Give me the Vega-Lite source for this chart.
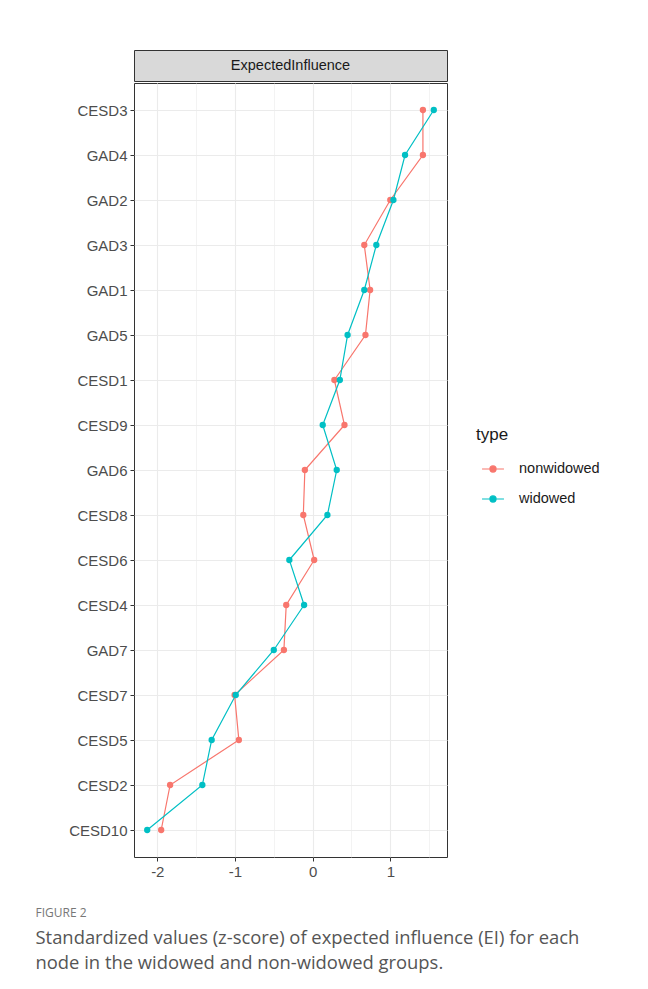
{
  "$schema": "https://vega.github.io/schema/vega-lite/v6.json",
  "padding": {"left": 35, "top": 49, "right": 5, "bottom": 5},
  "background": "white",
  "datasets": {
    "ei": [
      {"rank": 1, "node": "CESD3", "type": "nonwidowed", "z": 1.42},
      {"rank": 2, "node": "GAD4", "type": "nonwidowed", "z": 1.42},
      {"rank": 3, "node": "GAD2", "type": "nonwidowed", "z": 1.0},
      {"rank": 4, "node": "GAD3", "type": "nonwidowed", "z": 0.665},
      {"rank": 5, "node": "GAD1", "type": "nonwidowed", "z": 0.74},
      {"rank": 6, "node": "GAD5", "type": "nonwidowed", "z": 0.68},
      {"rank": 7, "node": "CESD1", "type": "nonwidowed", "z": 0.28},
      {"rank": 8, "node": "CESD9", "type": "nonwidowed", "z": 0.41},
      {"rank": 9, "node": "GAD6", "type": "nonwidowed", "z": -0.1},
      {"rank": 10, "node": "CESD8", "type": "nonwidowed", "z": -0.12},
      {"rank": 11, "node": "CESD6", "type": "nonwidowed", "z": 0.02},
      {"rank": 12, "node": "CESD4", "type": "nonwidowed", "z": -0.34},
      {"rank": 13, "node": "GAD7", "type": "nonwidowed", "z": -0.37},
      {"rank": 14, "node": "CESD7", "type": "nonwidowed", "z": -1.005},
      {"rank": 15, "node": "CESD5", "type": "nonwidowed", "z": -0.95},
      {"rank": 16, "node": "CESD2", "type": "nonwidowed", "z": -1.835},
      {"rank": 17, "node": "CESD10", "type": "nonwidowed", "z": -1.95},
      {"rank": 1, "node": "CESD3", "type": "widowed", "z": 1.56},
      {"rank": 2, "node": "GAD4", "type": "widowed", "z": 1.19},
      {"rank": 3, "node": "GAD2", "type": "widowed", "z": 1.04},
      {"rank": 4, "node": "GAD3", "type": "widowed", "z": 0.82},
      {"rank": 5, "node": "GAD1", "type": "widowed", "z": 0.665},
      {"rank": 6, "node": "GAD5", "type": "widowed", "z": 0.45},
      {"rank": 7, "node": "CESD1", "type": "widowed", "z": 0.35},
      {"rank": 8, "node": "CESD9", "type": "widowed", "z": 0.13},
      {"rank": 9, "node": "GAD6", "type": "widowed", "z": 0.31},
      {"rank": 10, "node": "CESD8", "type": "widowed", "z": 0.19},
      {"rank": 11, "node": "CESD6", "type": "widowed", "z": -0.3},
      {"rank": 12, "node": "CESD4", "type": "widowed", "z": -0.11},
      {"rank": 13, "node": "GAD7", "type": "widowed", "z": -0.5},
      {"rank": 14, "node": "CESD7", "type": "widowed", "z": -0.99},
      {"rank": 15, "node": "CESD5", "type": "widowed", "z": -1.3},
      {"rank": 16, "node": "CESD2", "type": "widowed", "z": -1.42},
      {"rank": 17, "node": "CESD10", "type": "widowed", "z": -2.13}
    ]
  },
  "title": {
    "text": "FIGURE 2",
    "subtitle": ["Standardized values (z-score) of expected influence (EI) for each", "node in the widowed and non-widowed groups."],
    "orient": "bottom",
    "anchor": "start",
    "offset": 28,
    "font": "Open Sans",
    "fontSize": 12,
    "fontWeight": "normal",
    "color": "#777777",
    "subtitleFont": "Open Sans",
    "subtitleFontSize": 18.4,
    "subtitleColor": "#555555",
    "subtitleLineHeight": 25,
    "subtitlePadding": 9
  },
  "spacing": 0,
  "vconcat": [
    {
      "width": 313,
      "height": 31,
      "view": {"fill": "#D9D9D9", "stroke": "#333333", "strokeWidth": 1},
      "data": {"values": [{"label": "ExpectedInfluence"}]},
      "mark": {"type": "text", "font": "Liberation Sans", "fontSize": 14.5, "color": "#1A1A1A"},
      "encoding": {"text": {"field": "label", "type": "nominal"}}
    },
    {
      "width": 313,
      "height": 774,
      "view": {"stroke": "#333333", "strokeWidth": 1},
      "data": {"name": "ei"},
      "encoding": {
        "y": {
          "field": "node",
          "type": "nominal",
          "sort": ["CESD3", "GAD4", "GAD2", "GAD3", "GAD1", "GAD5", "CESD1", "CESD9", "GAD6", "CESD8", "CESD6", "CESD4", "GAD7", "CESD7", "CESD5", "CESD2", "CESD10"],
          "scale": {"type": "point", "padding": 0.6},
          "axis": {
            "title": null,
            "domain": false,
            "grid": true,
            "gridColor": "#EBEBEB",
            "gridWidth": 1.1,
            "tickColor": "#333333",
            "tickSize": 4,
            "labelPadding": 3,
            "labelFont": "Liberation Sans",
            "labelFontSize": 15,
            "labelColor": "#4D4D4D",
            "minExtent": 98
          }
        },
        "x": {
          "field": "z",
          "type": "quantitative",
          "scale": {"domain": [-2.3, 1.73], "nice": false, "zero": false},
          "axis": {
            "title": null,
            "domain": false,
            "values": [-2, -1.5, -1, -0.5, 0, 0.5, 1, 1.5],
            "labelExpr": "datum.value % 1 === 0 ? toString(datum.value) : ''",
            "grid": true,
            "gridColor": "#EBEBEB",
            "gridWidth": {"condition": {"test": "datum.value % 1 !== 0", "value": 0.6}, "value": 1.1},
            "tickOpacity": {"condition": {"test": "datum.value % 1 !== 0", "value": 0}, "value": 1},
            "tickColor": "#333333",
            "tickSize": 4,
            "labelPadding": 3,
            "labelFont": "Liberation Sans",
            "labelFontSize": 15,
            "labelColor": "#4D4D4D",
            "labelFlush": false
          }
        },
        "color": {
          "field": "type",
          "type": "nominal",
          "scale": {"domain": ["nonwidowed", "widowed"], "range": ["#F8766D", "#00BFC4"]},
          "legend": {
            "title": "type",
            "orient": "none",
            "legendX": 342,
            "legendY": 377,
            "titleFont": "Liberation Sans",
            "titleFontSize": 17,
            "titleFontWeight": "normal",
            "titleColor": "#1A1A1A",
            "titlePadding": 13,
            "labelFont": "Liberation Sans",
            "labelFontSize": 14.5,
            "labelColor": "#1A1A1A",
            "labelOffset": 14,
            "rowPadding": 11,
            "symbolType": "M-1,0L1,0M-0.28,0A0.28,0.28,0,1,1,0.28,0A0.28,0.28,0,1,1,-0.28,0Z",
            "symbolSize": 480,
            "symbolStrokeWidth": 1.2,
            "symbolOffset": 5
          }
        }
      },
      "layer": [
        {
          "mark": {"type": "line", "strokeWidth": 1.2},
          "encoding": {"order": {"field": "rank", "type": "quantitative"}}
        },
        {
          "mark": {"type": "point", "filled": true, "size": 40, "opacity": 1}
        }
      ]
    }
  ],
  "config": {
    "view": {"stroke": "#333333"},
    "font": "Liberation Sans"
  }
}
